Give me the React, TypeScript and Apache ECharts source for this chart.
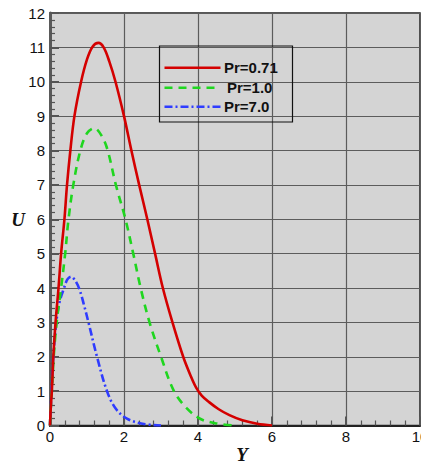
import React, { useEffect, useRef } from "react";
import * as echarts from "echarts";

const seriesNames = ["Pr=0.71", "Pr=1.0", "Pr=7.0"];
const seriesColors = ["#d40000", "#1fd61f", "#2f3cff"];
const seriesDash: (number[] | "solid")[] = ["solid", [8, 6], [8, 3, 2, 3]];

const pr071X = [0, 0.02, 0.05, 0.09, 0.15, 0.23, 0.3, 0.39, 0.46, 0.55, 0.66, 0.84, 1.0, 1.15, 1.31, 1.45, 1.6, 1.77, 2.0, 2.2, 2.41, 2.63, 2.84, 3.05, 3.31, 3.6, 3.8, 3.95, 4.1, 4.3, 4.55, 4.85, 5.2, 5.6, 6.0];
const pr071U = [0, 0.5, 1.0, 2.0, 3.0, 4.0, 5.0, 6.0, 7.0, 8.0, 9.0, 10.0, 10.65, 11.02, 11.13, 11.0, 10.6, 10.0, 9.0, 8.0, 7.0, 6.0, 5.0, 4.0, 3.0, 2.0, 1.45, 1.1, 0.87, 0.68, 0.48, 0.3, 0.15, 0.05, 0.0];

const pr10X = [0, 0.02, 0.05, 0.1, 0.18, 0.3, 0.41, 0.5, 0.63, 0.82, 1.0, 1.2, 1.4, 1.56, 1.78, 2.04, 2.25, 2.45, 2.69, 3.0, 3.35, 3.7, 4.07, 4.5, 5.0];
const pr10U = [0, 0.5, 1.0, 2.0, 3.0, 4.0, 5.0, 6.0, 7.0, 8.0, 8.5, 8.65, 8.42, 8.0, 7.0, 6.0, 5.0, 4.0, 3.0, 2.0, 1.0, 0.5, 0.19, 0.06, 0.0];

const pr70X = [0, 0.02, 0.04, 0.09, 0.17, 0.26, 0.38, 0.47, 0.57, 0.68, 0.8, 0.92, 1.04, 1.27, 1.54, 1.77, 2.08, 2.5, 3.0];
const pr70U = [0, 0.5, 1.0, 2.0, 3.0, 3.6, 4.0, 4.25, 4.33, 4.22, 3.95, 3.5, 3.0, 2.0, 1.0, 0.5, 0.2, 0.05, 0.0];

const xTicks = [0, 2, 4, 6, 8, 10];
const yTicks = [0, 1, 2, 3, 4, 5, 6, 7, 8, 9, 10, 11, 12];

const pairs = (xs: number[], ys: number[]) => xs.map((x, i) => [x, ys[i]]);

const tickFont = "'Liberation Sans Narrow', 'Arial Narrow', 'Liberation Sans', Arial, sans-serif";

export default function App() {
  const ref = useRef<HTMLDivElement>(null);
  useEffect(() => {
    if (!ref.current) return;
    document.documentElement.style.overflow = "hidden";
    document.body.style.margin = "0";
    document.body.style.overflow = "hidden";
    const chart = echarts.init(ref.current, null, { renderer: "svg", width: 421, height: 470 });

    const legendRows = [67.7, 87.7, 106.7];
    const legendTextX = [224, 227, 224];
    const legendGraphics: any[] = [];
    seriesNames.forEach((name, i) => {
      legendGraphics.push({
        type: "line",
        shape: { x1: 164.5, y1: legendRows[i], x2: 220.5, y2: legendRows[i] },
        style: {
          stroke: seriesColors[i],
          lineWidth: 2.6,
          lineDash: seriesDash[i] === "solid" ? null : seriesDash[i],
        },
        z: 100,
      });
      legendGraphics.push({
        type: "text",
        x: legendTextX[i],
        y: legendRows[i],
        style: {
          text: name,
          font: "bold 15px " + tickFont,
          fill: "#111",
          textAlign: "left",
          textVerticalAlign: "middle",
        },
        z: 100,
      });
    });

    chart.setOption({
      animation: false,
      backgroundColor: "#ffffff",
      grid: {
        left: 50,
        right: 1,
        top: 13,
        bottom: 44.5,
        show: true,
        backgroundColor: "#d4d4d4",
        borderColor: "#222",
        borderWidth: 1.5,
        containLabel: false,
        outerBoundsMode: "none",
      },
      xAxis: {
        type: "value",
        min: xTicks[0],
        max: xTicks[xTicks.length - 1],
        interval: 2,
        axisLine: { show: true, onZero: false, lineStyle: { color: "#222", width: 2 } },
        axisTick: { show: true, inside: true, length: 9, lineStyle: { color: "#555", width: 2 } },
        minorTick: { show: true, splitNumber: 5, length: 5, lineStyle: { color: "#555", width: 1.2 } },
        splitLine: { show: true, lineStyle: { color: "#5c5c5c", width: 1.2 } },
        axisLabel: { color: "#111", fontSize: 15, margin: 3, fontFamily: tickFont, showMaxLabel: true },
      },
      yAxis: {
        type: "value",
        min: yTicks[0],
        max: yTicks[yTicks.length - 1],
        interval: 1,
        axisLine: { show: true, onZero: false, lineStyle: { color: "#5a5a5a", width: 3 } },
        axisTick: { show: true, inside: true, length: 9, lineStyle: { color: "#555", width: 2 } },
        minorTick: { show: true, splitNumber: 5, length: 5, lineStyle: { color: "#555", width: 1.2 } },
        splitLine: { show: true, lineStyle: { color: "#5c5c5c", width: 1.2 } },
        axisLabel: { color: "#111", fontSize: 15, margin: 5, fontFamily: tickFont },
      },
      graphic: [
        {
          type: "rect",
          shape: { x: 159.5, y: 46, width: 133, height: 76 },
          style: { fill: "none", stroke: "#111", lineWidth: 1.2 },
          z: 100,
        },
        ...legendGraphics,
        {
          type: "text",
          x: 18,
          y: 219,
          style: { text: "U", font: "italic bold 19px 'Liberation Serif', 'Times New Roman', serif", fill: "#111", textAlign: "center", textVerticalAlign: "middle" },
        },
        {
          type: "text",
          x: 242,
          y: 454,
          style: { text: "Y", font: "italic bold 19px 'Liberation Serif', 'Times New Roman', serif", fill: "#111", textAlign: "center", textVerticalAlign: "middle" },
        },
      ],
      series: [
        {
          name: seriesNames[0],
          type: "line",
          data: pairs(pr071X, pr071U),
          smooth: 0.35,
          showSymbol: false,
          symbol: "none",
          lineStyle: { color: seriesColors[0], width: 2.6, type: seriesDash[0] },
          z: 5,
        },
        {
          name: seriesNames[1],
          type: "line",
          data: pairs(pr10X, pr10U),
          smooth: 0.35,
          showSymbol: false,
          symbol: "none",
          lineStyle: { color: seriesColors[1], width: 2.6, type: seriesDash[1] },
          z: 4,
        },
        {
          name: seriesNames[2],
          type: "line",
          data: pairs(pr70X, pr70U),
          smooth: 0.35,
          showSymbol: false,
          symbol: "none",
          lineStyle: { color: seriesColors[2], width: 2.6, type: seriesDash[2] },
          z: 3,
        },
      ],
    });
    return () => chart.dispose();
  }, []);
  return <div ref={ref} style={{ position: "absolute", left: 0, top: 0, width: 421, height: 470 }} />;
}
